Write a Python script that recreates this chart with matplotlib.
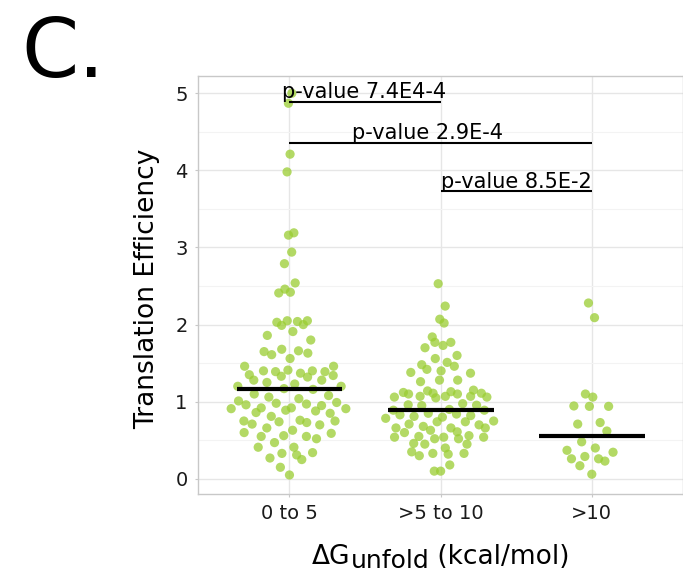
import numpy as np
import matplotlib
matplotlib.use("Agg")
import matplotlib.pyplot as plt

# ---------------- data ----------------
categories = ["0 to 5", ">5 to 10", ">10"]

te_0_to_5 = [5.00, 4.87, 4.21, 3.98, 3.19, 3.16, 2.94, 2.79,
             2.54, 2.41, 2.46, 2.42,
             2.03, 1.99, 2.05, 2.04, 2.00, 2.05,
             1.91, 1.86, 1.80,
             1.65, 1.61, 1.68, 1.66, 1.63, 1.56,
             1.46, 1.40, 1.39, 1.41, 1.37, 1.40, 1.46, 1.39,
             1.35, 1.28, 1.25, 1.33, 1.23, 1.32, 1.28, 1.34,
             1.20, 1.17, 1.16, 1.20,
             1.10, 1.06, 1.04, 1.08,
             1.01, 0.96, 0.98, 0.97, 0.99,
             0.91, 0.92, 0.92, 0.89, 0.95, 0.91,
             0.86, 0.88, 0.85,
             0.81, 0.76, 0.73, 0.75, 0.74, 0.75,
             0.71, 0.70, 0.66,
             0.60, 0.63, 0.59,
             0.55, 0.56, 0.55, 0.52,
             0.47, 0.41, 0.41,
             0.33, 0.34, 0.31,
             0.27, 0.25, 0.15, 0.05]

te_5_to_10 = [2.53, 2.24, 2.07, 2.02,
              1.84, 1.77, 1.77, 1.73, 1.70,
              1.60, 1.56, 1.51, 1.48, 1.46, 1.42, 1.40, 1.38, 1.37,
              1.26, 1.28, 1.28,
              1.14, 1.12, 1.10, 1.06, 1.07, 1.11, 1.06, 1.07, 1.13, 1.10, 1.15, 1.07, 1.11, 1.05,
              0.96, 0.95, 0.975, 0.955,
              0.89, 0.84, 0.81, 0.85, 0.80, 0.90, 0.83, 0.82, 0.89, 0.785,
              0.74, 0.74, 0.75,
              0.71, 0.66, 0.68, 0.66, 0.70, 0.66,
              0.60, 0.63, 0.61,
              0.54, 0.55, 0.52, 0.54, 0.52, 0.56, 0.54,
              0.46, 0.45, 0.45,
              0.40,
              0.35, 0.30, 0.33, 0.32, 0.33,
              0.18, 0.10, 0.10]

te_gt_10 = [2.28, 2.09, 1.10, 1.06, 0.945, 0.94, 0.94, 0.71, 0.73, 0.62,
            0.48, 0.37, 0.40, 0.345, 0.26, 0.29, 0.26, 0.23, 0.17, 0.06]

y_ticks = [0, 1, 2, 3, 4, 5]

pvalue_labels = ["p-value 7.4E4-4", "p-value 2.9E-4", "p-value 8.5E-2"]
pvalue_pairs = [(0, 1), (0, 2), (1, 2)]

groups = [te_0_to_5, te_5_to_10, te_gt_10]


# ------------- quasirandom offsets (vipor / ggbeeswarm style) -------------
def van_der_corput(n, base=2):
    out = []
    for i in range(1, n + 1):
        v, denom, k = 0.0, 1.0, i
        while k > 0:
            k, rem = divmod(k, base)
            denom *= base
            v += rem / denom
        out.append(v)
    return np.array(out)


def bw_nrd0(y):
    hi = np.std(y, ddof=1)
    q75, q25 = np.percentile(y, [75, 25])
    lo = min(hi, (q75 - q25) / 1.34)
    if lo == 0:
        lo = hi if hi > 0 else 1.0
    return 0.9 * lo * len(y) ** -0.2


def quasirandom_offsets(y, max_n, width=0.4):
    y = np.asarray(y, float)
    n = len(y)
    bw = bw_nrd0(y)
    grid = np.linspace(y.min() - 3 * bw, y.max() + 3 * bw, 1024)
    dens = np.exp(-0.5 * ((grid[:, None] - y[None, :]) / bw) ** 2).sum(axis=1)
    dens = dens / dens.max()
    dy = np.interp(y, grid, dens)
    order = np.argsort(y, kind="stable")
    ranks = np.empty(n, int)
    ranks[order] = np.arange(n)
    vdc = van_der_corput(n)
    scale = np.sqrt(n / max_n)  # variable width by group size
    return (vdc[ranks] - 0.5) * 2 * dy * width * scale


# ---------------- figure ----------------
W, H = 683, 572
fig = plt.figure(figsize=(W / 100, H / 100), dpi=100)
ax = fig.add_axes([198 / W, 1 - 493.5 / H, (682.5 - 198) / W, (493.5 - 75.5) / H])

grid_major = "#E6E6E6"
grid_minor = "#F3F3F3"
frame_col = "#C8C8C8"
pt_col = "#9ACD32"

ax.set_xlim(-0.605, 2.6)
ax.set_ylim(-0.19, 5.23)

ax.set_yticks(y_ticks)
ax.set_yticks(np.arange(0.5, 5.5, 1.0), minor=True)
ax.set_xticks(range(len(categories)))
ax.set_xticklabels(categories)

ax.grid(True, which="major", color=grid_major, lw=1.0, zorder=0)
ax.grid(True, which="minor", axis="y", color=grid_minor, lw=0.8, zorder=0)
ax.set_axisbelow(True)
for s in ax.spines.values():
    s.set_color(frame_col)
    s.set_linewidth(1.0)

ax.tick_params(axis="both", which="major", length=2.5, width=0.8, color=frame_col,
               labelsize=14, labelcolor="#1a1a1a", pad=5)
ax.tick_params(axis="y", which="minor", length=0)

max_n = max(len(g) for g in groups)
for i, vals in enumerate(groups):
    offs = quasirandom_offsets(vals, max_n)
    ax.scatter(i + offs, vals, s=44, color=pt_col, alpha=0.75, edgecolors="none", zorder=3)
    med = np.median(vals)
    ax.hlines(med, i - 0.35, i + 0.35, color="black", lw=3.0, zorder=4)

# p-value brackets
bracket_y = [4.89, 4.36, 3.73]
label_x = [0.495, 0.91, 1.50]
for (a, b), lab, yb, xl in zip(pvalue_pairs, pvalue_labels, bracket_y, label_x):
    ax.plot([a, b], [yb, yb], color="black", lw=1.5, zorder=5, solid_capstyle="butt")
    ax.text(xl, yb + 0.045, lab, ha="center", va="baseline", fontsize=15, color="black", zorder=6)

# y label
ax.set_ylabel("Translation Efficiency", fontsize=19, color="black")
ax.yaxis.set_label_coords(-0.079, 0.49)

# x label built from parts (subscript nearly full size, lowered)
fig.canvas.draw()
r = fig.canvas.get_renderer()
parts = [("\u0394G", 19, 564.5), ("unfold", 18, 568.5), (" (kcal/mol)", 19, 564.5)]
texts = []
for s, fs, base in parts:
    t = fig.text(0, 1 - base / H, s, fontsize=fs, va="baseline", ha="left", color="black")
    texts.append(t)
widths = [t.get_window_extent(r).width for t in texts]
total = sum(widths)
x0 = 441 - total / 2
for t, w in zip(texts, widths):
    t.set_x(x0 / W)
    x0 += w

# panel letter
fig.text(21 / W, 1 - 77 / H, "C.", fontsize=59, va="baseline", ha="left", color="black")

fig.savefig("out.png", dpi=100)
